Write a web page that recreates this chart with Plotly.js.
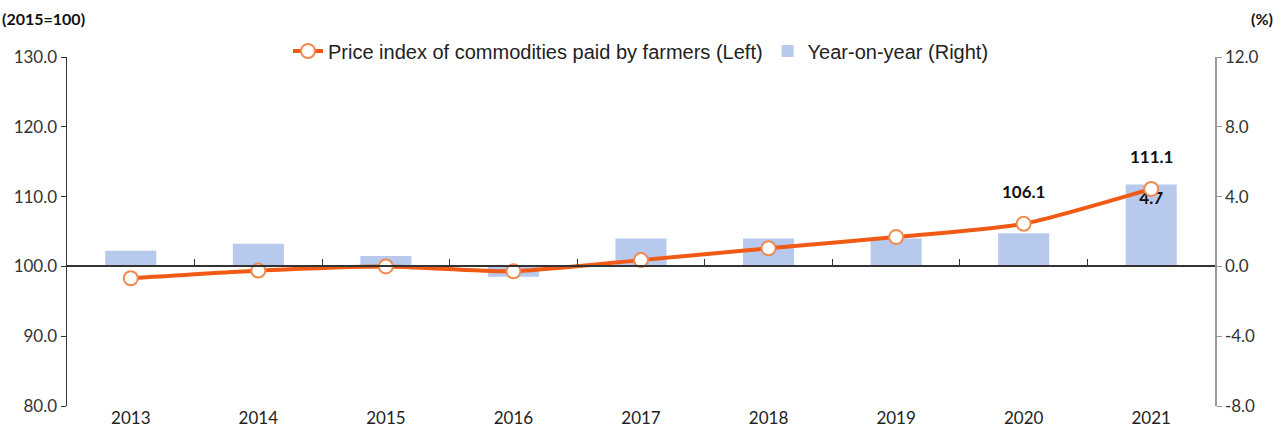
<!DOCTYPE html>
<html><head><meta charset="utf-8">
<script src="https://cdn.plot.ly/plotly-3.0.1.min.js"></script>
<style>html,body{margin:0;padding:0;background:#fff}#chart{width:1282px;height:429px}</style>
</head><body><div id="chart"></div>
<script>
const years = ['2013','2014','2015','2016','2017','2018','2019','2020','2021'];
const priceIndex = [98.3, 99.4, 100.0, 99.3, 100.9, 102.6, 104.2, 106.1, 111.1];
const yoyChange = [0.9, 1.3, 0.6, -0.6, 1.6, 1.6, 1.6, 1.9, 4.7];
const indexLabels = ['', '', '', '', '', '', '', '106.1', '111.1'];
const yoyLabels = ['', '', '', '', '', '', '', '', '4.7'];
const leftTicks = [80, 90, 100, 110, 120, 130];
const rightTicks = [-8, -4, 0, 4, 8, 12];
const leftRange = [80, 130];
const rightRange = [-8, 12];

const font = 'Lato, "Open Sans", Arial, sans-serif';
const legendFont = '"Liberation Sans", Arial, sans-serif';

const bars = {
  type: 'bar', x: years, y: yoyChange, yaxis: 'y',
  name: 'Year-on-year (Right)', width: 0.4,
  marker: {color: '#b7c9ec', line: {width: 0}},
  text: yoyLabels, textposition: 'inside', insidetextanchor: 'end',
  textfont: {family: font, size: 17, color: '#111', weight: 'bold'},
  hoverinfo: 'skip'
};
const line = {
  type: 'scatter', mode: 'lines+markers', x: years, y: priceIndex, yaxis: 'y2',
  name: 'Price index of commodities paid by farmers (Left)',
  line: {color: '#f05a14', width: 4, shape: 'spline', smoothing: 0.6},
  marker: {size: 14, color: '#ffffff', line: {color: '#f08a50', width: 2}},
  cliponaxis: false
};

const annotations = [
  {xref: 'paper', yref: 'paper', x: -67/1148, y: 1 + 39/349, xanchor: 'left', yanchor: 'middle',
   text: '<b>(2015=100)</b>', showarrow: false, font: {family: font, size: 16, color: '#111'}},
  {xref: 'paper', yref: 'paper', x: 1 + 60/1148, y: 1 + 39/349, xanchor: 'right', yanchor: 'middle',
   text: '<b>(%)</b>', showarrow: false, font: {family: font, size: 16, color: '#111'}}
];
indexLabels.forEach((t, i) => {
  if (t) annotations.push({
    xref: 'paper', yref: 'paper',
    x: (i + 0.5) / years.length,
    y: (priceIndex[i] - leftRange[0]) / (leftRange[1] - leftRange[0]),
    xanchor: 'center', yanchor: 'middle',
    text: '<b>' + t + '</b>', showarrow: false, yshift: 32,
    font: {family: font, size: 17, color: '#111'}});
});

const layout = {
  width: 1282, height: 429,
  margin: {l: 67, r: 67, t: 57, b: 23},
  paper_bgcolor: '#fff', plot_bgcolor: 'rgba(0,0,0,0)',
  font: {family: font, size: 17, color: '#333'},
  showlegend: true,
  legend: {orientation: 'h', x: 0.5, xanchor: 'center', y: 1 + 6/349, yanchor: 'middle',
           traceorder: 'reversed', font: {family: legendFont, size: 20, color: '#222'},
           bgcolor: 'rgba(0,0,0,0)'},
  xaxis: {type: 'category', range: [-0.5, 8.5], showline: false, showgrid: false,
          ticks: '', tickfont: {family: font, size: 17, color: '#222'}, zeroline: false},
  xaxis2: {type: 'category', overlaying: 'x', anchor: 'free', position: 0.4,
           range: [-0.5, 8.5], showline: true, linecolor: '#333', linewidth: 2,
           ticks: 'inside', ticklen: 6, tickcolor: '#333', tickson: 'boundaries',
           showticklabels: false, showgrid: false, matches: 'x'},
  yaxis: {range: rightRange, side: 'right',
          tickvals: rightTicks, ticktext: rightTicks.map(v => v.toFixed(1)),
          showgrid: false, zeroline: false, showline: true, linecolor: '#999', linewidth: 1.5,
          ticks: 'outside', ticklen: 5, tickcolor: '#999',
          tickfont: {family: font, size: 17, color: '#333'}},
  yaxis2: {range: leftRange, overlaying: 'y', side: 'left',
           tickvals: leftTicks, ticktext: leftTicks.map(v => v.toFixed(1)),
           showgrid: false, zeroline: false, showline: true, linecolor: '#333', linewidth: 1.5,
           ticks: 'outside', ticklen: 5, tickcolor: '#333',
           tickfont: {family: font, size: 17, color: '#333'}},
  annotations: annotations
};

// invisible trace so that the zero-line axis (xaxis2) is drawn
const axisTrace = {type: 'scatter', x: years, y: yoyChange, xaxis: 'x2', yaxis: 'y', mode: 'none',
                   showlegend: false, hoverinfo: 'skip'};

Plotly.newPlot('chart', [axisTrace, bars, line], layout, {displayModeBar: false, staticPlot: true});
</script></body></html>
